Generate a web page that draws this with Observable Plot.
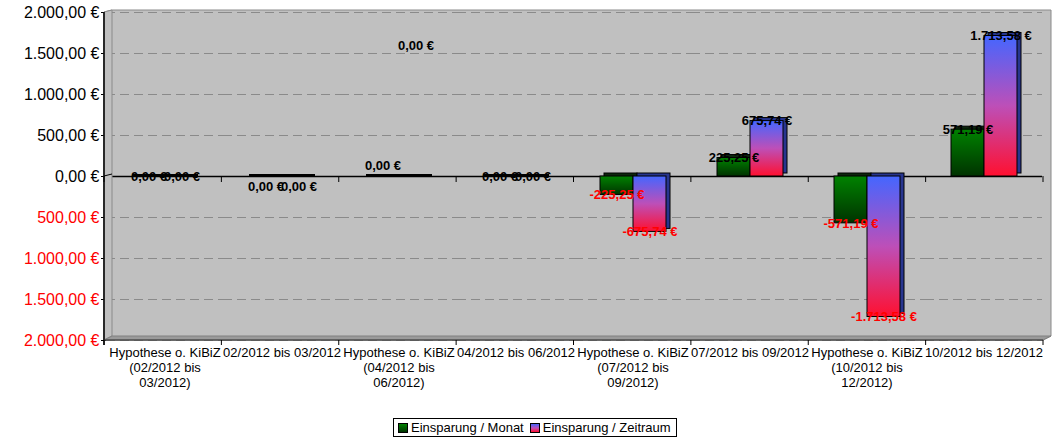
<!DOCTYPE html>
<html><head><meta charset="utf-8">
<script src="https://cdn.jsdelivr.net/npm/d3@7"></script>
<script src="https://cdn.jsdelivr.net/npm/@observablehq/plot@0.6"></script>
<style>
html,body{margin:0;padding:0;background:#fff;font-family:"Liberation Sans",Arial,sans-serif;}
#legend{margin:6px 0 0 393px;width:282px;height:17px;border:1px solid #000;display:flex;align-items:center;font-size:13px;white-space:nowrap;}
#legend .sw{display:inline-block;width:8px;height:8px;border:1px solid #000;margin:0 3px 0 4px;}
</style></head><body>
<div id="chart"></div>
<div id="legend"></div>
<script>
const categories = [
  "Hypothese o. KiBiZ\n(02/2012 bis\n03/2012)",
  "02/2012 bis 03/2012",
  "Hypothese o. KiBiZ\n(04/2012 bis\n06/2012)",
  "04/2012 bis 06/2012",
  "Hypothese o. KiBiZ\n(07/2012 bis\n09/2012)",
  "07/2012 bis 09/2012",
  "Hypothese o. KiBiZ\n(10/2012 bis\n12/2012)",
  "10/2012 bis 12/2012"
];
const series = ["Einsparung / Monat", "Einsparung / Zeitraum"];
const monat = [0, 0, 0, 0, -225.25, 225.25, -571.19, 571.19];
const zeitraum = [0, 0, 0, 0, -675.74, 675.74, -1713.58, 1713.58];
// label nudges (px) copied from the original's label placement of zero values
const labelShiftMonat = [0, 10, -11, 0, 0, 0, 0, 0];
const labelShiftZeitraum = [0, 10, -131, 0, 0, 0, 0, 0];
const yTicks = [-2000, -1500, -1000, -500, 0, 500, 1000, 1500, 2000];

const loc = d3.formatLocale({decimal: ",", thousands: ".", grouping: [3], currency: ["", " €"], minus: "-"});
const f2 = loc.format(",.2f");
const euro = v => f2(v) + " €";

const rows = categories.flatMap((c, i) => [
  {category: c, series: series[0], value: monat[i], shift: labelShiftMonat[i]},
  {category: c, series: series[1], value: zeitraum[i], shift: labelShiftZeitraum[i]}
]);
const shifts = Array.from(new Set(rows.map(d => d.shift)));
const sideFill = {[series[0]]: "#0d260d", [series[1]]: "#27358f"};
const mainFill = {[series[0]]: "url(#gMonat)", [series[1]]: "url(#gZeit)"};

const barMarks = [];
for (const s of series) {
  const sub = rows.filter(d => d.series === s);
  barMarks.push(Plot.barY(sub, {fx: "category", x: "series", y: "value", fill: sideFill[s], stroke: "#000", strokeWidth: 1, dx: 4, dy: -3}));
  barMarks.push(Plot.barY(sub, {fx: "category", x: "series", y: "value", fill: mainFill[s], stroke: "#000", strokeWidth: 1}));
}
const labelMarks = shifts.map(s => Plot.text(rows.filter(d => d.shift === s), {
  fx: "category", x: "series", y: "value", text: d => euro(d.value), dy: s,
  fill: d => d.value < 0 ? "red" : "black", fontWeight: "bold", fontSize: 13
}));

const chart = Plot.plot({
  width: 1061, height: 412,
  marginLeft: 104, marginRight: 18, marginTop: 12, marginBottom: 72,
  style: {fontFamily: "'Liberation Sans', Arial, sans-serif", fontSize: "13px", background: "#fff", overflow: "visible"},
  fx: {domain: categories, padding: 0, label: null},
  x: {domain: series, axis: null, paddingInner: 0, paddingOuter: 0.73},
  y: {domain: [-2000, 2000], label: null},
  marks: [
    Plot.ruleY(yTicks.filter(d => d !== 0), {stroke: "#8a8a8a", strokeWidth: 1, strokeDasharray: "9,5"}),
    Plot.ruleY([0], {stroke: "#000", strokeWidth: 1.5}),
    ...barMarks,
    Plot.tickY(rows.filter(d => d.value === 0), {fx: "category", x: "series", y: "value", stroke: "#000", strokeWidth: 3, dy: -1}),
    ...labelMarks,
    Plot.axisY(yTicks, {anchor: "left", tickSize: 5, tickFormat: () => "", stroke: "#000"}),
    Plot.text(yTicks, {fx: () => categories[0], y: d => d, text: d => euro(Math.abs(d)), frameAnchor: "left", textAnchor: "end", dx: -7,
      fill: d => d < 0 ? "red" : "black", fontSize: 16}),
    Plot.axisFx({anchor: "bottom", tickSize: 0, tickPadding: 6, lineHeight: 1.15, fontSize: 13, fill: "#000", label: null})
  ]
});

document.getElementById("chart").appendChild(chart);
const svgNode = chart.tagName.toLowerCase() === "svg" ? chart : chart.querySelector("svg");
const svg = d3.select(svgNode);

const defs = svg.insert("defs", ":first-child");
const gm = defs.append("linearGradient").attr("id", "gMonat").attr("x1", 0).attr("y1", 0).attr("x2", 0).attr("y2", 1);
gm.append("stop").attr("offset", "0%").attr("stop-color", "#008200");
gm.append("stop").attr("offset", "100%").attr("stop-color", "#003300");
const gz = defs.append("linearGradient").attr("id", "gZeit").attr("x1", 0).attr("y1", 0).attr("x2", 0).attr("y2", 1);
gz.append("stop").attr("offset", "0%").attr("stop-color", "#4466ff");
gz.append("stop").attr("offset", "50%").attr("stop-color", "#bd4fb8");
gz.append("stop").attr("offset", "100%").attr("stop-color", "#ff1030");

// 3D chart walls and category separators, positioned with the plot's own scales
const fxs = chart.scale("fx"), ys = chart.scale("y");
const n = categories.length;
const left = fxs.range[0], right = fxs.range[1];
const edges = d3.range(n + 1).map(i => left + i * (right - left) / n);
const y0 = ys.apply(0), yTop = ys.apply(2000), yBot = ys.apply(-2000);
const backLayer = svg.insert("g", "defs + *");
backLayer.append("polygon").attr("points", `${left},${yTop} ${left+8},${yTop-2} ${right+8},${yTop-2} ${right+8},${yBot-4} ${right},${yBot} ${left},${yBot}`).attr("fill", "#c0c0c0").attr("stroke", "#8a8a8a");
const topLayer = svg.append("g");
topLayer.append("polygon").attr("points", `${left},${yTop} ${left+8},${yTop-2} ${left+8},${yBot-4} ${left},${yBot}`).attr("fill", "#c0c0c0").attr("stroke", "#8a8a8a");
topLayer.append("polygon").attr("points", `${left},${yBot} ${left+8},${yBot-4} ${right+8},${yBot-4} ${right},${yBot}`).attr("fill", "#9a9a9a").attr("stroke", "#808080");
topLayer.append("line").attr("x1", left).attr("x2", left + 8).attr("y1", y0).attr("y2", y0 - 2).attr("stroke", "#000");
topLayer.append("line").attr("x1", left).attr("x2", left).attr("y1", yTop).attr("y2", yBot + 5).attr("stroke", "#000").attr("stroke-width", 1.5);
topLayer.append("line").attr("x1", left).attr("x2", right).attr("y1", yBot).attr("y2", yBot).attr("stroke", "#333");
for (const x of edges) {
  topLayer.append("line").attr("x1", x).attr("x2", x).attr("y1", yBot).attr("y2", yBot + 5).attr("stroke", "#000");
  topLayer.append("line").attr("x1", x).attr("x2", x).attr("y1", y0).attr("y2", y0 + 6).attr("stroke", "#000");
}

const lg = document.getElementById("legend");
lg.innerHTML = `<span class="sw" style="background:linear-gradient(#008200,#003300)"></span>${series[0]}<span class="sw" style="background:linear-gradient(#4466ff,#bd4fb8,#ff1030);margin-left:6px"></span>${series[1]}`;
</script>
</body></html>
